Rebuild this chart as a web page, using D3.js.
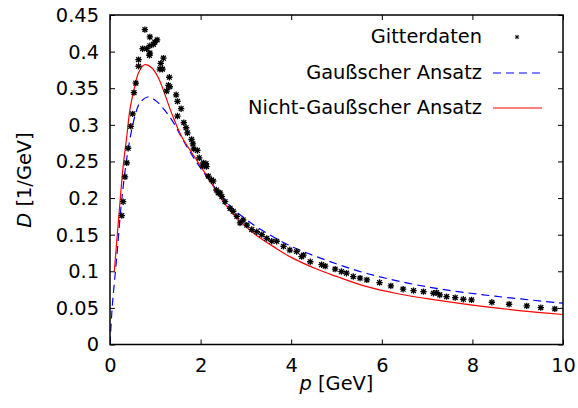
<!DOCTYPE html>
<html><head><meta charset="utf-8">
<script src="https://cdn.jsdelivr.net/npm/d3@7"></script>
<style>
html,body{margin:0;padding:0;background:#fff;}
svg text{font-family:"DejaVu Sans",sans-serif !important;fill:#000;}
</style></head>
<body>
<svg id="c" width="578" height="408"></svg>
<script>
// Gitterdaten (lattice data)
const latticeP = [0.26,0.29,0.33,0.37,0.40,0.46,0.50,0.53,0.57,0.63,0.63,0.77,0.88,0.72,0.81,0.88,0.88,0.87,0.96,0.99,1.04,1.18,1.12,1.10,1.16,1.31,1.29,1.32,1.25,1.46,1.49,1.57,1.49,1.63,1.68,1.71,1.80,1.83,1.93,1.85,1.97,2.12,2.05,2.17,2.28,2.39,2.47,
 2.06,2.13,2.24,2.35,2.43,2.54,2.65,2.72,2.80,2.87,2.94,3.02,3.13,3.24,3.35,3.46,3.57,3.68,3.83,3.97,4.12,4.27,
 4.23,4.42,4.67,4.75,4.97,5.11,5.22,5.37,5.52,5.67,5.95,6.20,6.47,6.70,6.92,7.21,
 7.14,7.28,7.43,7.62,7.80,7.98,8.43,8.81,9.20,9.51,9.82];
const latticeD = [0.176,0.195,0.229,0.248,0.268,0.298,0.315,0.344,0.357,0.380,0.389,0.430,0.420,0.404,0.404,0.408,0.398,0.395,0.410,0.413,0.416,0.391,0.384,0.376,0.376,0.365,0.354,0.352,0.346,0.341,0.332,0.322,0.312,0.303,0.296,0.289,0.280,0.274,0.265,0.267,0.255,0.247,0.244,0.230,0.223,0.207,0.202,
 0.248,0.243,0.225,0.211,0.207,0.195,0.186,0.182,0.175,0.166,0.170,0.163,0.157,0.154,0.150,0.145,0.141,0.141,0.134,0.129,0.127,0.122,
 0.120,0.113,0.109,0.107,0.103,0.0996,0.0974,0.0928,0.0906,0.0882,0.0846,0.080,0.0755,0.0736,0.0722,0.0709,
 0.070,0.0677,0.0654,0.064,0.0618,0.0609,0.0577,0.055,0.0527,0.0503,0.0486];

// Gaußscher Ansatz (blue dashed)
const gaussP = [0,0.05,0.15,0.26,0.40,0.55,0.66,0.83,0.99,1.14,1.36,1.69,2.02,2.50,2.72,3.00,3.30,3.97,4.60,5.67,7.07,8.50,10];
const gaussD = [0,0.052,0.12,0.198,0.266,0.312,0.330,0.338,0.334,0.325,0.307,0.271,0.239,0.200,0.185,0.171,0.158,0.135,0.119,0.097,0.078,0.066,0.0564];

// Nicht-Gaußscher Ansatz (red solid)
const nongP = [0.095,0.20,0.29,0.37,0.44,0.53,0.63,0.76,0.92,1.07,1.36,1.58,1.88,2.10,2.50,2.72,3.00,3.30,3.60,3.97,4.60,5.00,5.67,6.30,7.07,8.50,10];
const nongD = [0.10,0.179,0.243,0.284,0.321,0.348,0.371,0.382,0.378,0.364,0.316,0.284,0.255,0.234,0.195,0.178,0.161,0.146,0.134,0.120,0.102,0.093,0.079,0.070,0.062,0.050,0.041];

const xTicks = [0,2,4,6,8,10];
const yTicks = [0,0.05,0.1,0.15,0.2,0.25,0.3,0.35,0.4,0.45];
const legendLabels = ["Gitterdaten","Gaußscher Ansatz","Nicht-Gaußscher Ansatz"];

const L=110,R=563,T=15,B=344.5;
const svg=d3.select("#c");
const x=d3.scaleLinear().domain([0,10]).range([L,R]);
const y=d3.scaleLinear().domain([0,0.45]).range([B,T]);
const FS=19.4, tl=5;

const gx=svg.append("g").attr("transform",`translate(0,${B})`)
  .call(d3.axisBottom(x).tickValues(xTicks).tickSize(-tl).tickPadding(tl+9).tickFormat(d3.format("d")));
const gxt=svg.append("g").attr("transform",`translate(0,${T})`)
  .call(d3.axisTop(x).tickValues(xTicks).tickSize(-tl).tickFormat(""));
const gy=svg.append("g").attr("transform",`translate(${L},0)`)
  .call(d3.axisLeft(y).tickValues(yTicks).tickSize(-tl).tickPadding(tl+6).tickFormat(d=>d===0?"0":String(+d.toFixed(2))));
const gyr=svg.append("g").attr("transform",`translate(${R},0)`)
  .call(d3.axisRight(y).tickValues(yTicks).tickSize(-tl).tickFormat(""));
[gx,gxt,gy,gyr].forEach(g=>{
  g.attr("font-family",null);
  g.select(".domain").remove();
  g.selectAll(".tick line").attr("stroke","#000").attr("stroke-width",1);
  g.selectAll(".tick text").attr("font-size",FS).attr("fill","#000");
});
gy.selectAll(".tick text").attr("dy","0.33em");
gx.selectAll(".tick text").attr("dy","0.71em");

svg.append("clipPath").attr("id","cp").append("rect").attr("x",L).attr("y",T).attr("width",R-L).attr("height",B-T);

const line=d3.line().x(d=>x(d[0])).y(d=>y(d[1])).curve(d3.curveCatmullRom.alpha(0.5));
svg.append("path").datum(gaussP.map((p,i)=>[p,gaussD[i]])).attr("d",line)
  .attr("fill","none").attr("stroke","#0000ff").attr("stroke-width",1.2).attr("stroke-dasharray","8,5").attr("clip-path","url(#cp)");
svg.append("path").datum(nongP.map((p,i)=>[p,nongD[i]])).attr("d",line)
  .attr("fill","none").attr("stroke","#ff0000").attr("stroke-width",1.2).attr("clip-path","url(#cp)");

const star="M-3.2,0H3.2M0,-3.2V3.2M-2.4,-2.4L2.4,2.4M-2.4,2.4L2.4,-2.4";
svg.append("g").selectAll("path").data(latticeP.map((p,i)=>[p,latticeD[i]])).join("path")
  .attr("d",star).attr("transform",d=>`translate(${x(d[0])},${y(d[1])})`)
  .attr("stroke","#000").attr("stroke-width",1.3).attr("fill","none");

svg.append("rect").attr("x",L).attr("y",T).attr("width",R-L).attr("height",B-T)
  .attr("fill","none").attr("stroke","#000").attr("stroke-width",1.5);

const ly=[37,73,108];
legendLabels.forEach((t,i)=>{
  svg.append("text").attr("x",482).attr("y",ly[i]).attr("dy","0.33em").attr("text-anchor","end").attr("font-size",FS).text(t);
});
svg.append("path").attr("d",star).attr("transform",`translate(517,${ly[0]}) scale(0.7)`).attr("stroke","#000").attr("stroke-width",1.3);
svg.append("line").attr("x1",493).attr("x2",542).attr("y1",ly[1]).attr("y2",ly[1]).attr("stroke","#0000ff").attr("stroke-width",1.2).attr("stroke-dasharray","8,5");
svg.append("line").attr("x1",493).attr("x2",542).attr("y1",ly[2]).attr("y2",ly[2]).attr("stroke","#ff0000").attr("stroke-width",1.2);

const xl=svg.append("text").attr("x",(L+R)/2).attr("y",390).attr("text-anchor","middle").attr("font-size",FS);
xl.append("tspan").attr("font-style","italic").text("p");
xl.append("tspan").text(" [GeV]");
const yl=svg.append("text").attr("transform","translate(31,180) rotate(-90)").attr("text-anchor","middle").attr("font-size",FS);
yl.append("tspan").attr("font-style","italic").text("D");
yl.append("tspan").text(" [1/GeV]");
</script>
</body></html>
